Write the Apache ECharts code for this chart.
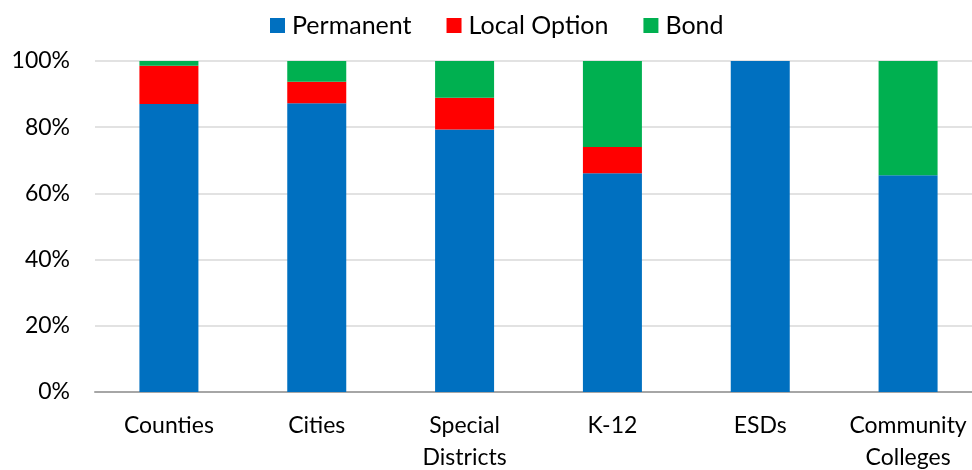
<!DOCTYPE html>
<html>
<head>
<meta charset="utf-8">
<script src="https://cdn.jsdelivr.net/npm/echarts@6/dist/echarts.min.js"></script>
<style>
html,body{margin:0;padding:0;background:#fff;}
#chart{width:972px;height:470px;}
</style>
</head>
<body>
<div id="chart"></div>
<script>
const categories = ['Counties', 'Cities', 'Special\nDistricts', 'K-12', 'ESDs', 'Community\nColleges'];
const permanent = [87.0, 87.2, 79.3, 66.1, 100, 65.5];
const localOption = [11.6, 6.5, 9.6, 7.9, 0, 0];
const bond = [1.4, 6.3, 11.1, 26.0, 0, 34.5];
const yTicks = [0, 20, 40, 60, 80, 100];

const font = 'Lato, "Open Sans", sans-serif';
const chart = echarts.init(document.getElementById('chart'));
chart.setOption({
  animation: false,
  textStyle: { fontFamily: font },
  legend: {
    top: 8,
    left: 265,
    itemWidth: 15,
    itemHeight: 15,
    itemGap: 35,
    icon: 'rect',
    textStyle: { fontSize: 25, color: '#000', fontFamily: font, padding: [0, 0, 0, 2] },
    data: ['Permanent', 'Local Option', 'Bond']
  },
  grid: { left: 95, right: -10, top: 61, bottom: 78, outerBoundsMode: 'none', containLabel: false },
  xAxis: {
    type: 'category',
    data: categories,
    axisTick: { show: false },
    axisLine: { lineStyle: { color: '#a6a6a6', width: 2 } },
    axisLabel: { fontSize: 23, color: '#000', margin: 18, lineHeight: 32, fontFamily: font, interval: 0 }
  },
  yAxis: {
    type: 'value',
    min: yTicks[0],
    max: yTicks[yTicks.length - 1],
    interval: 20,
    axisLine: { show: false },
    axisTick: { show: false },
    splitLine: { lineStyle: { color: '#d9d9d9', width: 1.5 } },
    axisLabel: { fontSize: 23, color: '#000', margin: 25, fontFamily: font, formatter: v => v + '%' }
  },
  series: [
    { name: 'Permanent', type: 'bar', stack: 's', data: permanent, barWidth: 59, itemStyle: { color: '#0070C0' } },
    { name: 'Local Option', type: 'bar', stack: 's', data: localOption, barWidth: 59, itemStyle: { color: '#FF0000' } },
    { name: 'Bond', type: 'bar', stack: 's', data: bond, barWidth: 59, itemStyle: { color: '#00B050' } }
  ]
});
</script>
</body>
</html>
